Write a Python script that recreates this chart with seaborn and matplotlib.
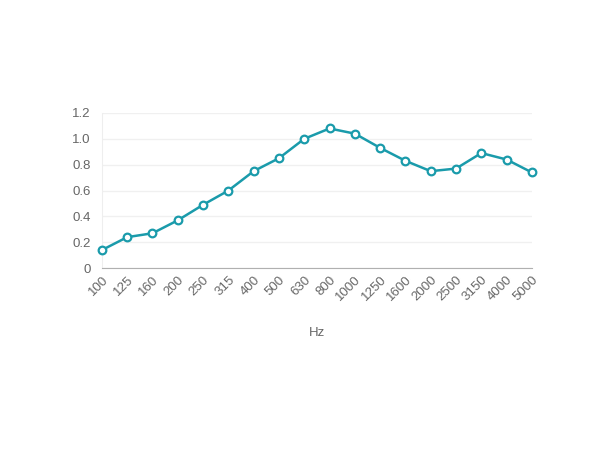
import pandas as pd
import numpy as np
import matplotlib.pyplot as plt
import seaborn as sns

freqs = ['100', '125', '160', '200', '250', '315', '400', '500', '630', '800',
         '1000', '1250', '1600', '2000', '2500', '3150', '4000', '5000']
values = [0.14, 0.24, 0.27, 0.37, 0.49, 0.60, 0.75, 0.85, 1.00, 1.08,
          1.04, 0.93, 0.83, 0.75, 0.77, 0.89, 0.84, 0.74]
y_ticks = [0, 0.2, 0.4, 0.6, 0.8, 1.0, 1.2]
y_labels = ['0', '0.2', '0.4', '0.6', '0.8', '1.0', '1.2']

line_color = '#1a9bab'

sns.set_style('white')
plt.rcParams['font.family'] = ['Liberation Sans', 'DejaVu Sans']

df = pd.DataFrame({'pos': np.arange(len(freqs)), 'value': values})

fig = plt.figure(figsize=(6.1, 4.5), dpi=100)
ax = fig.add_axes([0.167, 0.404, 0.705, 0.345])

sns.lineplot(data=df, x='pos', y='value', ax=ax, color=line_color, linewidth=1.8,
             marker='o', markersize=5.5, markerfacecolor='white',
             markeredgecolor=line_color, markeredgewidth=1.6, clip_on=False,
             zorder=5)

ax.set_xlim(0, len(freqs) - 1)
ax.set_ylim(0, 1.2)
ax.set_yticks(y_ticks)
ax.set_yticklabels(y_labels)
ax.set_xticks(df['pos'])
ax.set_xticklabels(freqs, rotation=45, ha='right', rotation_mode='anchor')

ax.grid(axis='y', color='#f0f0f0', linewidth=1)
ax.set_axisbelow(True)
for side in ['top', 'right']:
    ax.spines[side].set_visible(False)
ax.spines['left'].set_color('#eeeeee')
ax.spines['bottom'].set_color('#b0b0b0')
ax.tick_params(axis='both', colors='#666666', labelsize=9.5, length=0)
ax.tick_params(axis='y', pad=8)
ax.tick_params(axis='x', pad=4)

ax.set_xlabel('Hz', color='#666666', fontsize=9.5, labelpad=17)
ax.set_ylabel('')

fig.savefig('out.png', dpi=100)
